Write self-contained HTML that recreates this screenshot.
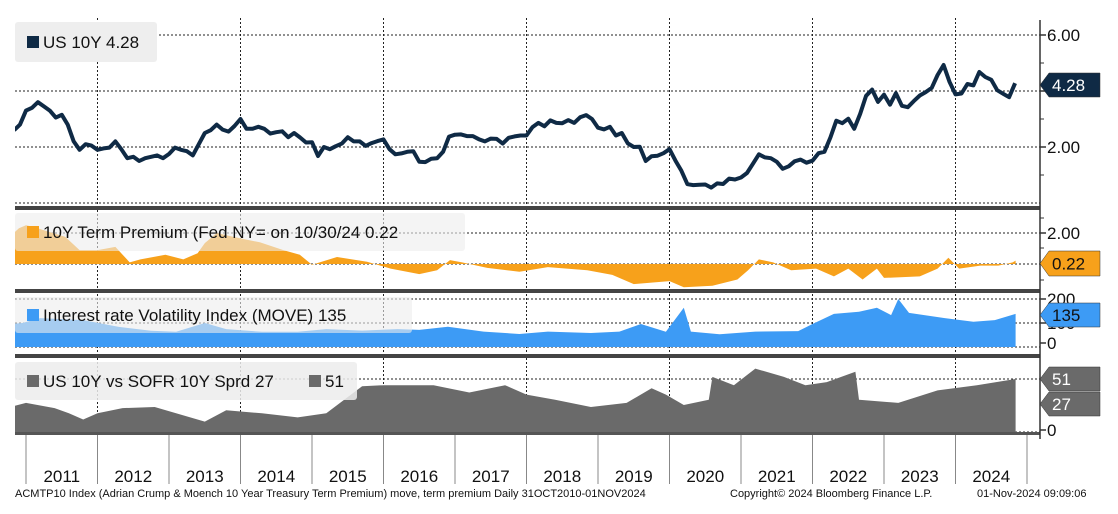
<!DOCTYPE html>
<html><head><meta charset="utf-8"><style>
html,body{margin:0;padding:0;background:#fff;}
svg{display:block;font-family:"Liberation Sans",sans-serif;}
</style></head><body>
<svg id="chart" width="1118" height="514" viewBox="0 0 1118 514" xmlns="http://www.w3.org/2000/svg">
<defs>
<clipPath id="c1"><rect x="15" y="18" width="1025" height="188"/></clipPath>
<clipPath id="c2"><rect x="15" y="210" width="1025" height="79"/></clipPath>
<clipPath id="c3"><rect x="15" y="292" width="1025" height="62"/></clipPath>
<clipPath id="c4"><rect x="15" y="357" width="1025" height="76"/></clipPath>
</defs>
<g id="grid"></g>
<g id="marks"></g>
<g id="overlay"></g>
</svg>
<script>
// ---- data ----
const usStart = 2010 + 10/12;
const us10y = [2.6,2.8,3.3,
3.4,3.6,3.45,3.3,3.05,3.15,2.8,2.2,1.9,2.1,2.05,1.9,
1.95,1.98,2.2,1.92,1.6,1.65,1.5,1.6,1.65,1.7,1.6,1.75,
1.98,1.9,1.85,1.7,2.1,2.5,2.6,2.8,2.62,2.55,2.75,3.0,
2.65,2.65,2.72,2.65,2.48,2.53,2.56,2.35,2.5,2.34,2.16,2.17,
1.68,2.0,1.92,2.03,2.12,2.35,2.2,2.2,2.04,2.14,2.21,2.27,
1.92,1.74,1.77,1.83,1.85,1.47,1.46,1.58,1.6,1.83,2.37,2.44,
2.45,2.39,2.39,2.28,2.2,2.3,2.29,2.12,2.33,2.38,2.41,2.41,
2.71,2.86,2.74,2.95,2.86,2.85,2.96,2.86,3.06,3.14,3.0,2.69,
2.63,2.72,2.41,2.5,2.13,2.0,2.01,1.5,1.67,1.69,1.78,1.92,
1.51,1.15,0.67,0.64,0.65,0.66,0.55,0.7,0.68,0.87,0.84,0.91,
1.07,1.4,1.74,1.63,1.6,1.47,1.22,1.31,1.49,1.55,1.44,1.51,
1.78,1.83,2.34,2.94,2.85,3.01,2.65,3.19,3.83,4.05,3.61,3.87,
3.51,3.92,3.47,3.42,3.64,3.84,3.96,4.11,4.57,4.93,4.33,3.88,
3.91,4.25,4.20,4.68,4.50,4.40,4.03,3.90,3.78,4.28];

const tpDates = [2010.83,2010.9,2011.0,2011.1,2011.3,2011.55,2011.75,2012.0,2012.25,2012.45,2012.6,2012.95,2013.2,2013.4,2013.5,2013.67,2013.9,2014.27,2014.6,2014.83,2015.0,2015.35,2015.77,2016.1,2016.5,2016.75,2016.93,2017.1,2017.45,2017.9,2018.3,2018.85,2019.2,2019.5,2020.0,2020.2,2020.6,2020.95,2021.1,2021.25,2021.45,2021.7,2022.05,2022.3,2022.5,2022.7,2022.9,2023.0,2023.5,2023.75,2023.9,2024.05,2024.35,2024.6,2024.8,2024.84];
const tpValues = [2.0,2.3,2.5,2.4,2.1,1.75,0.9,0.9,1.1,0.1,0.3,0.6,0.3,0.7,1.35,2.0,1.75,1.4,0.9,0.6,-0.05,0.45,0.15,-0.3,-0.65,-0.4,0.25,0.1,-0.25,-0.5,-0.2,-0.4,-0.7,-1.3,-1.1,-1.5,-1.4,-1.0,-0.4,0.3,0.1,-0.4,-0.3,-0.8,-0.3,-1.0,-0.3,-0.9,-0.8,-0.3,0.4,-0.3,-0.1,-0.1,0.1,0.22];

const moveDates = [2010.83,2010.95,2011.2,2011.8,2012.3,2012.75,2013.1,2013.5,2013.8,2014.3,2014.8,2015.2,2015.7,2016.2,2016.5,2016.9,2017.4,2017.9,2018.3,2018.9,2019.3,2019.6,2019.95,2020.2,2020.3,2020.7,2021.2,2021.8,2022.0,2022.3,2022.65,2022.9,2023.1,2023.2,2023.35,2023.85,2024.25,2024.55,2024.84];
const moveValues = [95,98,118,110,82,66,62,98,73,62,62,73,67,73,70,83,63,53,63,57,63,94,62,160,63,52,63,65,94,135,144,160,130,196,139,118,103,110,135];

const spDates = [2010.83,2011.0,2011.4,2011.6,2011.8,2012.0,2012.35,2012.8,2013.1,2013.5,2013.8,2014.3,2014.8,2015.2,2015.45,2015.7,2016.0,2016.7,2017.2,2017.7,2018.0,2018.4,2018.9,2019.4,2019.75,2019.95,2020.2,2020.55,2020.6,2020.9,2021.2,2021.6,2021.9,2022.2,2022.6,2022.65,2023.2,2023.75,2024.3,2024.84];
const spValues = [25,28,23,18,12,18,23,24,18,10,21,18,14,18,31,44,45,45,38,45,36,31,24,28,42,36,26,31,53,45,61,53,45,48,58,31,28,40,45,51];

const yearLabels = ["2011","2012","2013","2014","2015","2016","2017","2018","2019","2020","2021","2022","2023","2024"];

// ---- scales ----
const X = t => 26 + (t - 2011) * 71.5;
const Y1 = v => 203 - 28 * v;
const Y2 = v => 264 - 15.5 * v;
const Y3 = v => 347 - 0.245 * v;
const Y4 = v => 432 - 1.04 * v;
const NS = "http://www.w3.org/2000/svg";
function mk(tag, attrs, parent){const e=document.createElementNS(NS,tag);for(const k in attrs)e.setAttribute(k,attrs[k]);parent.appendChild(e);return e;}
const grid=document.getElementById('grid'), marks=document.getElementById('marks'), ov=document.getElementById('overlay');

// horizontal gridlines
[[35,'grid-6'],[91,'grid-4'],[147,'grid-2'],[203,'grid-0'],[233,'tp-grid-2'],[264,'tp-grid-0'],[299,'move-grid-200'],[323,'move-grid-100'],[347,'move-grid-0'],[379,'sprd-grid-50'],[432,'sprd-grid-0']].forEach(g=>{
  const l=mk('line',{x1:15,x2:1040,y1:g[0],y2:g[0],stroke:'#222','stroke-width':1,'stroke-dasharray':'2,2'},grid);
  
  
});
// vertical gridlines every 2 years
[2012,2014,2016,2018,2020,2022,2024].forEach(yr=>{
  const l=mk('line',{x1:X(yr),x2:X(yr),y1:18,y2:433,stroke:'#222','stroke-width':1,'stroke-dasharray':'2,2'},grid);
  
  
});

function area(dates, vals, Yf, base, color, clip, name){
  let d='M'+X(dates[0]).toFixed(1)+','+base;
  for(let i=0;i<vals.length;i++) d+=' L'+X(dates[i]).toFixed(1)+','+Yf(vals[i]).toFixed(1);
  d+=' L'+X(dates[dates.length-1]).toFixed(1)+','+base+' Z';
  const p=mk('path',{d:d,fill:color,'clip-path':'url(#'+clip+')'},marks);
  
  
}
area(tpDates,tpValues,Y2,264,'#f7a11b','c2');

area(moveDates,moveValues,Y3,347,'#3d9bf5','c3','move-area');
area(spDates,spValues,Y4,432,'#6a6a6a','c4','spread-area');

// US10Y line
let d='';
us10y.forEach((v,i)=>{const t=usStart+i/12;d+=(i?' L':'M')+X(t).toFixed(1)+','+Y1(v).toFixed(1);});
const line=mk('path',{d:d,fill:'none',stroke:'#0f2a45','stroke-width':4,'stroke-linejoin':'round','clip-path':'url(#c1)'},marks);



// separators
[206,289,354].forEach((y,i)=>{
  const r=mk('rect',{x:15,y:y,width:1025,height:4,fill:'#444'},ov);
  
  
});
// bottom axis
const ax=mk('rect',{x:15,y:432,width:1025,height:3,fill:'#555'},ov);


for(let i=0;i<=14;i++){
  const x=X(2011+i);
  const t=mk('line',{x1:x,x2:x,y1:435,y2:484,stroke:'#888','stroke-width':1},ov);
  
  
}
yearLabels.forEach((lab,i)=>{
  const tx=mk('text',{x:X(2011+i+0.5),y:482,'font-size':17,'text-anchor':'middle',fill:'#111'},ov);
  tx.textContent=lab;
  
  
});
// right axis
const ra=mk('line',{x1:1040,x2:1040,y1:20,y2:439,stroke:'#333','stroke-width':1.5},ov);


[[35,'6.00'],[91,'4.00'],[147,'2.00'],[233,'2.00'],[299,'200'],[323,'100'],[343,'0'],[430,'0']].forEach(a=>{
  const tk=mk('line',{x1:1040,x2:1046,y1:a[0],y2:a[0],stroke:'#333','stroke-width':1.5},ov);
  
  
  const tx=mk('text',{x:1047,y:a[0]+6,'font-size':17,fill:'#111'},ov);
  tx.textContent=a[1];
  
  
});
[63,119,175,218,248,280].forEach(y=>{
  const tk=mk('line',{x1:1040,x2:1044,y1:y,y2:y,stroke:'#333','stroke-width':1},ov);
  
  
});

// legends
function legend(x,y,w,h,fill,sq,label,name){
  const g=mk('g',{},ov);
  
  
  mk('rect',{x:x,y:y,width:w,height:h,rx:3,fill:fill},g);
  mk('rect',{x:x+12,y:y+h/2-6,width:12,height:12,fill:sq},g);
  const t=mk('text',{x:x+28,y:y+h/2+6,'font-size':17,fill:'#111'},g);
  t.textContent=label;
  return g;
}
legend(15,22,142,40,'#eeeeee','#0f2a45','US 10Y 4.28','legend-us10y');
legend(15,213,450,38,'rgba(236,236,236,0.6)','#f7a11b','10Y Term Premium (Fed NY= on 10/30/24 0.22','legend-term-premium');
legend(15,297,397,36,'rgba(236,236,236,0.6)','#3d9bf5','Interest rate Volatility Index (MOVE) 135','legend-move');
const lg=legend(15,362,342,38,'rgba(236,236,236,0.85)','#6a6a6a','US 10Y vs SOFR 10Y Sprd 27','legend-spread');
mk('rect',{x:309,y:375,width:12,height:12,fill:'#6a6a6a'},lg);
const t51=mk('text',{x:325,y:387,'font-size':17,fill:'#111'},lg);t51.textContent='51';

// value tags
function tag(y,h,fill,txtc,label,name){
  const g=mk('g',{},ov);
  
  
  mk('path',{d:`M1040,${y+h/2} L1049,${y} L1100,${y} L1100,${y+h} L1049,${y+h} Z`,fill:fill,stroke:'#333','stroke-width':0.5},g);
  const t=mk('text',{x:1052,y:y+h/2+6,'font-size':17,fill:txtc},g);
  t.textContent=label;
}
tag(73,24,'#0f2a45','#fff','4.28','tag-us10y');
tag(251,25,'#f7a11b','#111','0.22','tag-term-premium');
tag(303,24,'#3d9bf5','#111','135','tag-move');
tag(367,24,'#6a6a6a','#fff','51','tag-spread-51');
tag(392,24,'#6a6a6a','#fff','27','tag-spread-27');

// footer
[[15,'ACMTP10 Index (Adrian Crump & Moench 10 Year Treasury Term Premium) move, term premium  Daily 31OCT2010-01NOV2024','footer-source'],
 [730,'Copyright\u00a9 2024 Bloomberg Finance L.P.','footer-copyright'],
 [977,'01-Nov-2024 09:09:06','footer-timestamp']].forEach(f=>{
  const t=mk('text',{x:f[0],y:497,'font-size':11,fill:'#111','xml:space':'preserve'},ov);
  t.textContent=f[1];
  
  
});
</script>
</body></html>
